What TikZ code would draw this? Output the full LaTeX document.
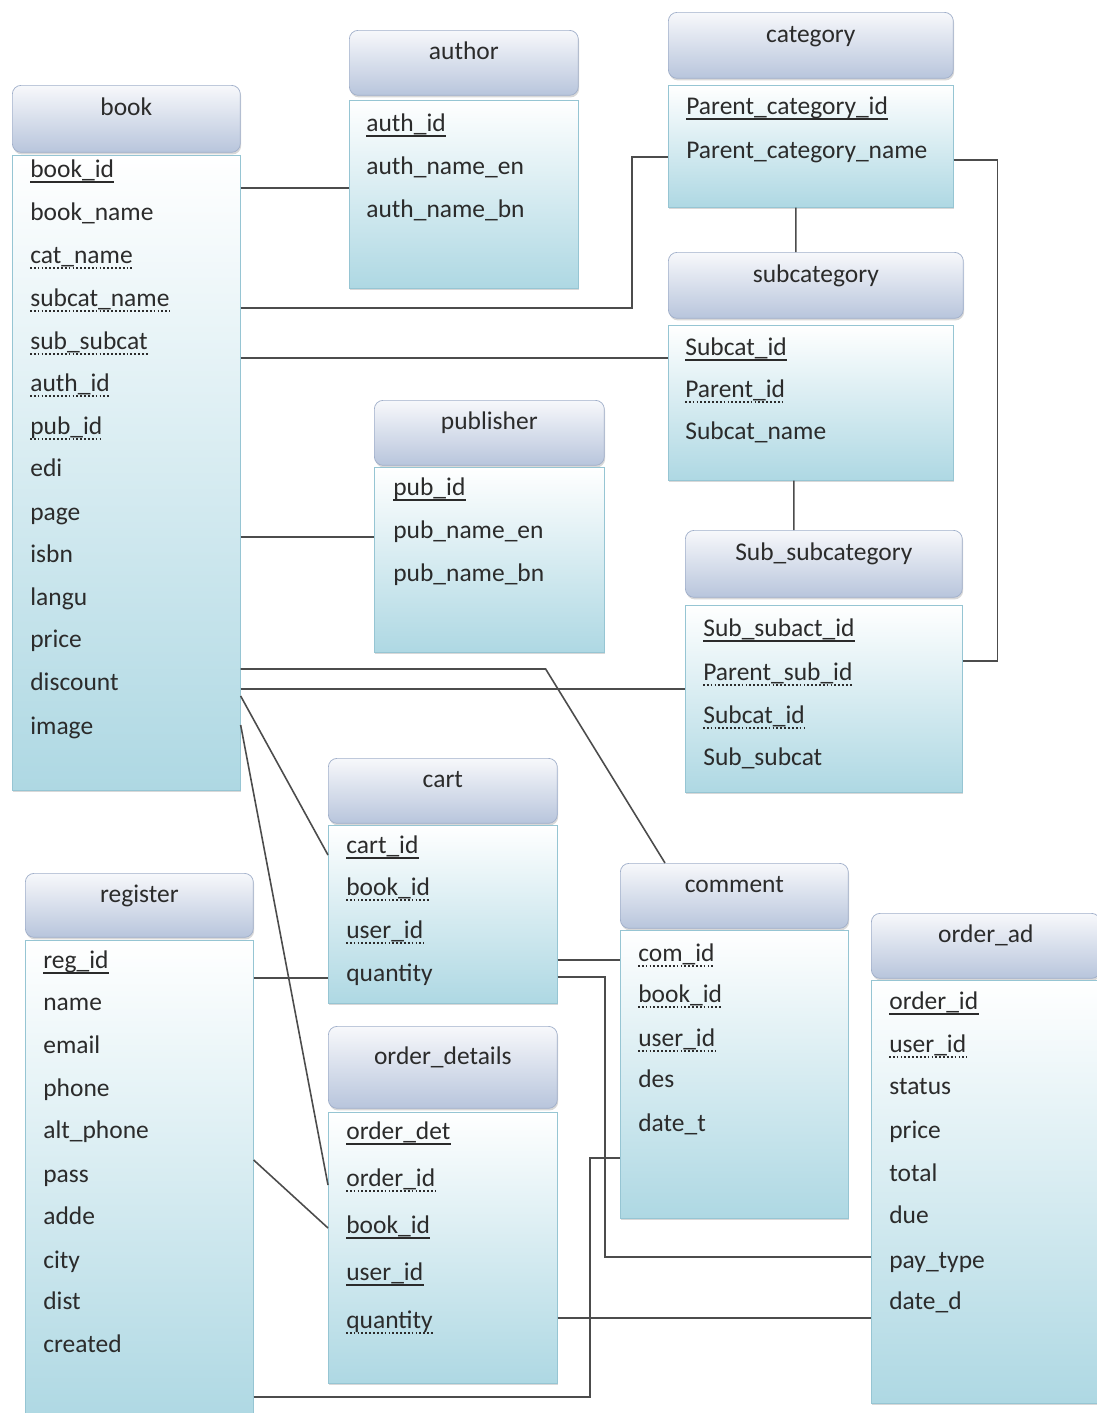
\documentclass[tikz,border=0pt]{standalone}
\usepackage{fontspec}
\setmainfont{Carlito}
\usetikzlibrary{calc,shadows}

\definecolor{hdrtop}{HTML}{F7F8FB}
\definecolor{hdrbot}{HTML}{B8C5DC}
\definecolor{hdredge}{HTML}{A0AFCA}
\definecolor{bodybot}{HTML}{AED8E3}
\definecolor{bodyedge}{HTML}{96C5D3}
\definecolor{txt}{HTML}{2B2B2B}

\tikzset{
  tblhead/.style={rectangle, rounded corners=5pt, draw=hdredge, top color=hdrtop, bottom color=hdrbot,
    anchor=north west, inner sep=0pt, text height=0.39cm, text depth=0.51cm, text=txt,
    drop shadow={shadow xshift=0.5pt, shadow yshift=-1.2pt, opacity=0.3}},
  tblbody/.style={rectangle, draw=bodyedge, top color=white, bottom color=bodybot,
    anchor=north west, inner sep=0pt,
    drop shadow={shadow xshift=0.5pt, shadow yshift=-1.2pt, opacity=0.3}},
  field/.style={anchor=west, inner sep=0pt, text height=0.39cm, text depth=0.12cm, text=txt},
  pkfield/.style={field, append after command={([yshift=1.2pt]\tikzlastnode.south west)
    edge[draw=txt, line width=0.7pt] ([yshift=1.2pt]\tikzlastnode.south east)}},
  fkfield/.style={field, append after command={([yshift=1.2pt]\tikzlastnode.south west)
    edge[draw=txt, line width=0.9pt, dash pattern=on 1pt off 1.2pt] ([yshift=1.2pt]\tikzlastnode.south east)}},
  link/.style={draw=black!70, line width=0.9pt}
}

\begin{document}
\begin{tikzpicture}[x=0.02cm, y=-0.02cm, font=\fontsize{14.5}{17}\selectfont]
\useasboundingbox[fill=white] (0,0) rectangle (1097,1413);

% book
\node[tblhead, minimum width=4.56cm, minimum height=1.34cm] (bookhead) at (12,85) {book};
\node[tblbody, minimum width=4.56cm, minimum height=12.7cm] (book) at (12,155) {};
\node[pkfield] (book-id) at (30,171) {book\_id};
\node[field] (book-name) at (30,214) {book\_name};
\node[fkfield] (book-cat) at (30,257) {cat\_name};
\node[fkfield] (book-subcat) at (30,300) {subcat\_name};
\node[fkfield] (book-subsub) at (30,343) {sub\_subcat};
\node[fkfield] (book-auth) at (30,385) {auth\_id};
\node[fkfield] (book-pub) at (30,428) {pub\_id};
\node[field] (book-edi) at (30,470) {edi};
\node[field] (book-page) at (30,514) {page};
\node[field] (book-isbn) at (30,556) {isbn};
\node[field] (book-langu) at (30,599) {langu};
\node[field] (book-price) at (30,641) {price};
\node[field] (book-disc) at (30,684) {discount};
\node[field] (book-image) at (30,728) {image};

% author
\node[tblhead, minimum width=4.58cm, minimum height=1.3cm] (authorhead) at (349,30) {author};
\node[tblbody, minimum width=4.58cm, minimum height=3.76cm] (author) at (349,100) {};
\node[pkfield] (auth-id) at (366,125) {auth\_id};
\node[field] (auth-en) at (366,168) {auth\_name\_en};
\node[field] (auth-bn) at (366,211) {auth\_name\_bn};

% category
\node[tblhead, minimum width=5.7cm, minimum height=1.32cm] (categoryhead) at (668,12) {category};
\node[tblbody, minimum width=5.7cm, minimum height=2.44cm] (category) at (668,85) {};
\node[pkfield] (cat-id) at (686,108) {Parent\_category\_id};
\node[field] (cat-name) at (686,152) {Parent\_category\_name};

% subcategory
\node[tblhead, minimum width=5.9cm, minimum height=1.32cm] (subcathead) at (668,252) {subcategory};
\node[tblbody, minimum width=5.7cm, minimum height=3.1cm] (subcat) at (668,325) {};
\node[pkfield] (subcat-id) at (685,349) {Subcat\_id};
\node[fkfield] (subcat-parent) at (685,391) {Parent\_id};
\node[field] (subcat-name) at (685,433) {Subcat\_name};

% Sub_subcategory
\node[tblhead, minimum width=5.54cm, minimum height=1.34cm] (subsubhead) at (685,530) {Sub\_subcategory};
\node[tblbody, minimum width=5.54cm, minimum height=3.74cm] (subsub) at (685,605) {};
\node[pkfield] (subsub-id) at (703,630) {Sub\_subact\_id};
\node[fkfield] (subsub-parent) at (703,674) {Parent\_sub\_id};
\node[fkfield] (subsub-subcat) at (703,717) {Subcat\_id};
\node[field] (subsub-name) at (703,759) {Sub\_subcat};

% publisher
\node[tblhead, minimum width=4.6cm, minimum height=1.3cm] (publisherhead) at (374,400) {publisher};
\node[tblbody, minimum width=4.6cm, minimum height=3.7cm] (publisher) at (374,467) {};
\node[pkfield] (pub-id) at (393,489) {pub\_id};
\node[field] (pub-en) at (393,532) {pub\_name\_en};
\node[field] (pub-bn) at (393,575) {pub\_name\_bn};

% cart
\node[tblhead, minimum width=4.58cm, minimum height=1.3cm] (carthead) at (328,758) {cart};
\node[tblbody, minimum width=4.58cm, minimum height=3.56cm] (cart) at (328,825) {};
\node[pkfield] (cart-id) at (346,847) {cart\_id};
\node[fkfield] (cart-book) at (346,889) {book\_id};
\node[fkfield] (cart-user) at (346,932) {user\_id};
\node[field] (cart-qty) at (346,975) {quantity};

% register
\node[tblhead, minimum width=4.56cm, minimum height=1.28cm] (registerhead) at (25,873) {register};
\node[tblbody, minimum width=4.56cm, minimum height=9.6cm] (register) at (25,940) {};
\node[pkfield] (reg-id) at (43,962) {reg\_id};
\node[field] (reg-name) at (43,1004) {name};
\node[field] (reg-email) at (43,1047) {email};
\node[field] (reg-phone) at (43,1090) {phone};
\node[field] (reg-alt) at (43,1132) {alt\_phone};
\node[field] (reg-pass) at (43,1176) {pass};
\node[field] (reg-adde) at (43,1218) {adde};
\node[field] (reg-city) at (43,1262) {city};
\node[field] (reg-dist) at (43,1303) {dist};
\node[field] (reg-created) at (43,1346) {created};

% order_details
\node[tblhead, minimum width=4.58cm, minimum height=1.64cm] (orderdethead) at (328,1026) {order\_details};
\node[tblbody, minimum width=4.58cm, minimum height=5.42cm] (orderdet) at (328,1112) {};
\node[pkfield] (od-det) at (346,1133) {order\_det};
\node[fkfield] (od-order) at (346,1180) {order\_id};
\node[pkfield] (od-book) at (346,1227) {book\_id};
\node[pkfield] (od-user) at (346,1274) {user\_id};
\node[fkfield] (od-qty) at (346,1322) {quantity};

% comment
\node[tblhead, minimum width=4.56cm, minimum height=1.3cm] (commenthead) at (620,863) {comment};
\node[tblbody, minimum width=4.56cm, minimum height=5.76cm] (comment) at (620,930) {};
\node[fkfield] (com-id) at (638,955) {com\_id};
\node[fkfield] (com-book) at (638,996) {book\_id};
\node[fkfield] (com-user) at (638,1040) {user\_id};
\node[field] (com-des) at (638,1081) {des};
\node[field] (com-date) at (638,1125) {date\_t};

% order_ad
\node[tblhead, minimum width=4.58cm, minimum height=1.3cm] (orderadhead) at (871,913) {order\_ad};
\node[tblbody, minimum width=4.58cm, minimum height=8.46cm] (orderad) at (871,980) {};
\node[pkfield] (oa-id) at (889,1003) {order\_id};
\node[fkfield] (oa-user) at (889,1046) {user\_id};
\node[field] (oa-status) at (889,1088) {status};
\node[field] (oa-price) at (889,1132) {price};
\node[field] (oa-total) at (889,1175) {total};
\node[field] (oa-due) at (889,1217) {due};
\node[field] (oa-pay) at (889,1262) {pay\_type};
\node[field] (oa-date) at (889,1303) {date\_d};

% links
\draw[link] ($(book.north east)+(0,33)$) -- ($(author.north west)+(0,88)$);
\draw[link] ($(book.north east)+(0,153)$) -| ($(category.north west)+(-36,72)$) -- ($(category.north west)+(0,72)$);
\draw[link] ($(book.north east)+(0,203)$) -- ($(subcat.north west)+(0,33)$);
\draw[link] ($(category.south)+(-15,0)$) -- ($(subcathead.north)+(-20,0)$);
\draw[link] ($(category.north east)+(0,75)$) -| ($(subsub.north east)+(35,56)$) -- ($(subsub.north east)+(0,56)$);
\draw[link] ($(subcat.south)+(-17,0)$) -- ($(subsubhead.north)+(-30,0)$);
\draw[link] ($(book.north east)+(0,382)$) -- ($(publisher.north west)+(0,70)$);
\draw[link] ($(book.north east)+(0,514)$) -- ++(305,0) -- ($(commenthead.north west)+(45,0)$);
\draw[link] ($(book.north east)+(0,534)$) -- ($(subsub.north west)+(0,84)$);
\draw[link] ($(book.north east)+(0,541)$) -- ($(cart.north west)+(0,30)$);
\draw[link] ($(book.north east)+(0,570)$) -- ($(orderdet.north west)+(0,73)$);
\draw[link] ($(register.north east)+(0,38)$) -- ($(cart.north west)+(0,153)$);
\draw[link] ($(register.north east)+(0,220)$) -- ($(orderdet.north west)+(0,116)$);
\draw[link] ($(cart.north east)+(0,135)$) -- ($(comment.north west)+(0,30)$);
\draw[link] ($(cart.north east)+(0,152)$) -| ($(orderad.north west)+(-266,277)$) -- ($(orderad.north west)+(0,277)$);
\draw[link] ($(orderdet.north east)+(0,206)$) -- ($(orderad.north west)+(0,338)$);
\draw[link] ($(register.north east)+(0,457)$) -| ($(comment.north west)+(-30,228)$) -- ($(comment.north west)+(0,228)$);
\end{tikzpicture}
\end{document}
